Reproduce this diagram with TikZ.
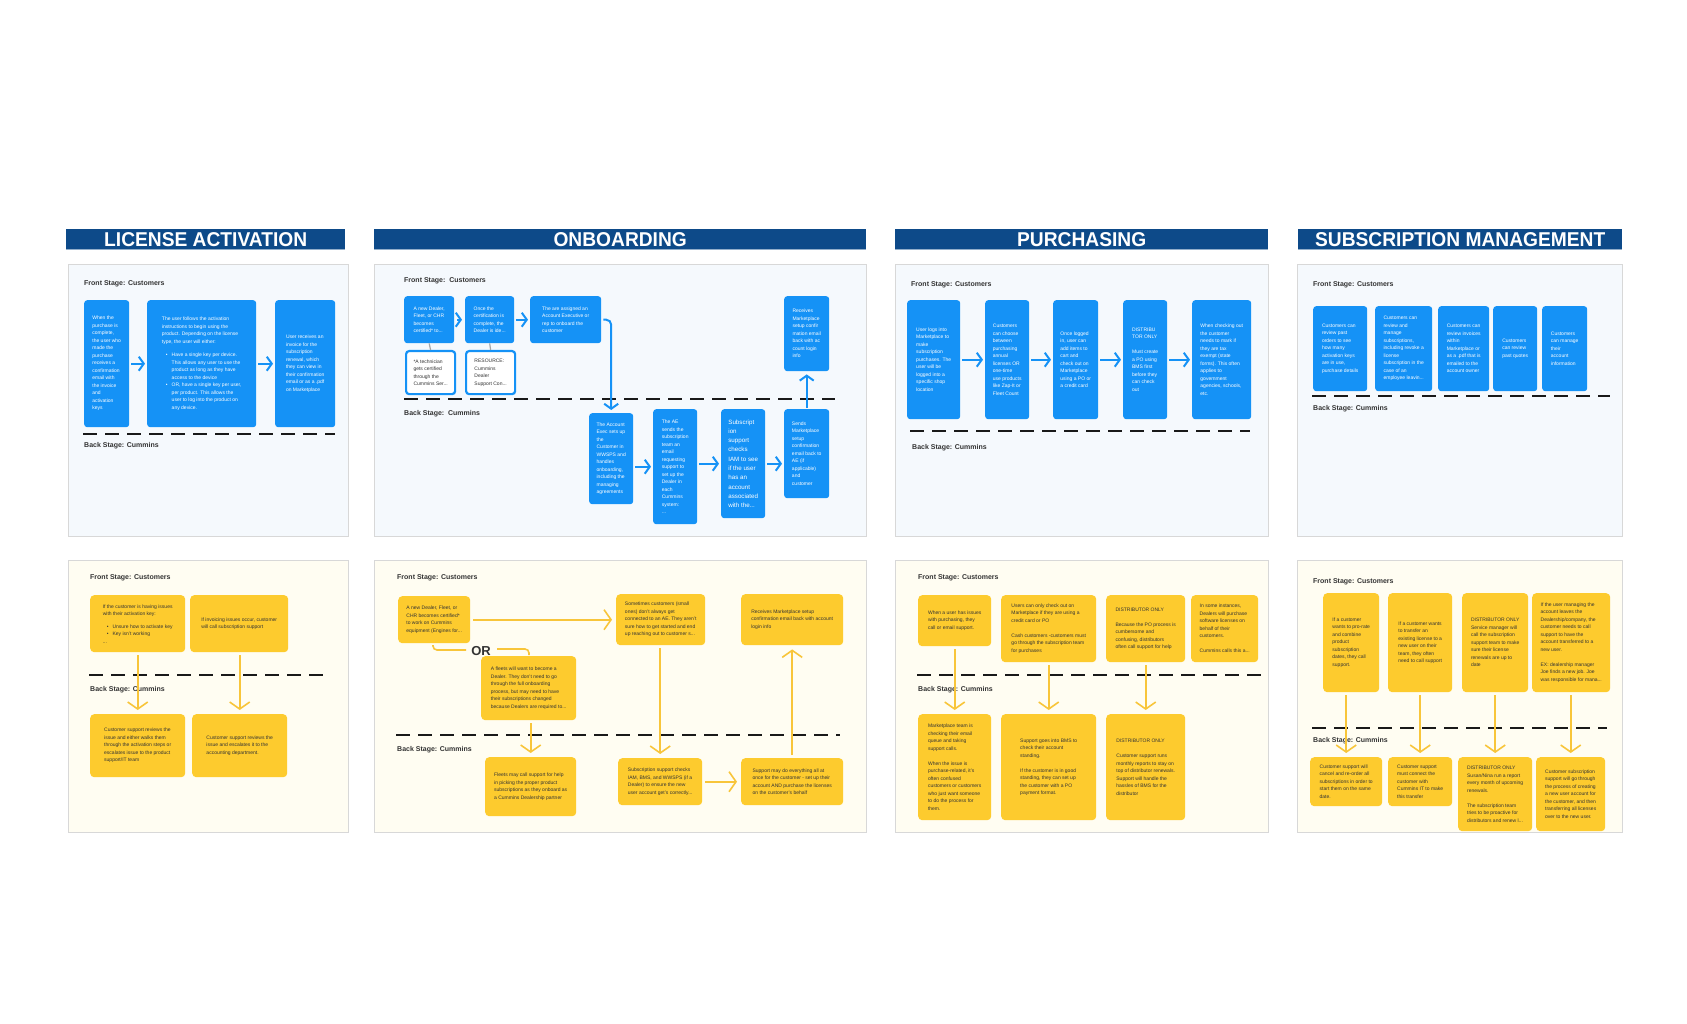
\documentclass[tikz,border=0pt]{standalone}
\usepackage{fontspec}
\setmainfont{Liberation Sans}
\newfontfamily\headfont[FakeStretch=0.96]{Liberation Sans}
\usetikzlibrary{arrows.meta}
\definecolor{hdrblue}{HTML}{0D4A89}
\definecolor{boxblue}{HTML}{1592F6}
\definecolor{boxyellow}{HTML}{FDCB2E}
\definecolor{lineyellow}{HTML}{F8C53A}
\definecolor{topfill}{HTML}{F5F9FD}
\definecolor{botfill}{HTML}{FFFDF2}
\definecolor{panelline}{HTML}{D8D8D8}
\definecolor{textdark}{HTML}{333333}
\newcommand\boxfont{\fontsize{5}{7.5}\selectfont}
\newcommand\bul{\hspace*{4pt}\textbullet\hspace{4pt}}
\newcommand\bulcont{\hspace*{9.8pt}}
\begin{document}
\begin{tikzpicture}[x=1pt, y=-1pt,
  every node/.style={inner sep=0pt, anchor=north west},
  sz/.style 2 args={minimum width=#1pt, minimum height=#2pt},
  header/.style={fill=hdrblue, text=white, font=\headfont\bfseries\fontsize{20}{20}\selectfont},
  stage/.style={anchor=west, font=\bfseries\fontsize{7}{8}\selectfont, text=textdark},
  bluebox/.style={fill=boxblue, text=white, rounded corners=3pt, align=left, font=\boxfont},
  yellowbox/.style={fill=boxyellow, text=textdark, rounded corners=4pt, align=left, font=\boxfont},
  outbox/.style={draw=boxblue, line width=2.2pt, fill=white, text=textdark, rounded corners=3pt, align=left, font=\boxfont},
  barrow/.style={draw=boxblue, line width=2pt, -{Straight Barb[length=5pt,width=14pt]}, shorten <=2pt, shorten >=2pt},
  yarrow/.style={draw=lineyellow, line width=1.6pt, -{Straight Barb[length=7pt,width=20pt]}, shorten <=3pt, shorten >=4pt},
  yline/.style={draw=lineyellow, line width=1.6pt, rounded corners=4pt},
  stagedash/.style={draw=black!90, line width=2.6pt, dash pattern=on 14pt off 8pt},
  toppanel/.style={fill=topfill, draw=panelline, line width=0.8pt},
  botpanel/.style={fill=botfill, draw=panelline, line width=0.8pt}
  ]
  \useasboundingbox (0,0) rectangle (1687,1024);
  \fill[white] (0,0) rectangle (1687,1024);

  % headers
  \node[header, sz={279}{20}] (hLA) at (66,229) {LICENSE ACTIVATION};
  \node[header, sz={492}{20}] (hON) at (374,229) {ONBOARDING};
  \node[header, sz={373}{20}] (hPU) at (895,229) {PURCHASING};
  \node[header, sz={324}{20}] (hSM) at (1298,229) {SUBSCRIPTION MANAGEMENT};
  \foreach \h in {hLA,hON,hPU,hSM}
    \draw[hdrblue!45, line width=1pt] (\h.south west) -- (\h.south east);

  % panels
  \draw[toppanel] (68,264) rectangle (348,536);
  \draw[toppanel] (374,264) rectangle (866,536);
  \draw[toppanel] (895,264) rectangle (1268,536);
  \draw[toppanel] (1297,264) rectangle (1622,536);
  \draw[botpanel] (68,560) rectangle (348,832);
  \draw[botpanel] (374,560) rectangle (866,832);
  \draw[botpanel] (895,560) rectangle (1268,832);
  \draw[botpanel] (1297,560) rectangle (1622,832);

  % license activation, top
  \node[stage] (laTf) at (84,284) {Front Stage: Customers};
  \node[stage] (laTb) at (84,446) {Back Stage: Cummins};
  \draw[stagedash] (83,434) -- (335,434);
  \node[bluebox, sz={45}{127}] (laT1) at (84,300) {When the\\purchase is\\complete,\\the user who\\made the\\purchase\\receives a\\confirmation\\email with\\the invoice\\and\\activation\\keys};
  \node[bluebox, sz={109}{127}] (laT2) at (147,300) {The user follows the activation\\instructions to begin using the\\product. Depending on the license\\type, the user will either:\\[6pt]
    \bul Have a single key per device.\\\bulcont This allows any user to use the\\\bulcont product as long as they have\\\bulcont access to the device\\
    \bul OR, have a single key per user,\\\bulcont per product. This allows the\\\bulcont user to log into the product on\\\bulcont any device.};
  \node[bluebox, sz={60}{127}] (laT3) at (275,300) {User receives an\\invoice for the\\subscription\\renewal, which\\they can view in\\their confirmation\\email or as a .pdf\\on Marketplace};
  \draw[barrow] (laT1) -- (laT2);
  \draw[barrow] (laT2) -- (laT3);

  % onboarding, top
  \node[stage] (onTf) at (404,281) {Front Stage:\ \ Customers};
  \node[stage] (onTb) at (404,414) {Back Stage:\ \ Cummins};
  \draw[stagedash] (404,399) -- (835,399);
  \node[bluebox, sz={50}{47}] (onA1) at (404,296) {A new Dealer,\\Fleet, or CHR\\becomes\\certified* to...};
  \node[bluebox, sz={49}{47}] (onA2) at (465,296) {Once the\\certification is\\complete, the\\Dealer is ide...};
  \node[bluebox, sz={71}{47}] (onA3) at (530,296) {The are assigned an\\Account Executive or\\rep to onboard the\\customer};
  \node[outbox, sz={49}{43}] (onR1) at (405,350) {*A technician\\gets certified\\through the\\Cummins Ser...};
  \node[outbox, sz={49}{43}] (onR2) at (465,350) {RESOURCE:\\Cummins\\Dealer\\Support Con...};
  \node[bluebox, sz={44}{91}] (onC1) at (589,413) {The Account\\Exec sets up\\the\\Customer in\\WWSPS and\\handles\\onboarding,\\including the\\managing\\agreements};
  \node[bluebox, sz={44}{115}] (onC2) at (653,409) {The AE\\sends the\\subscription\\team an\\email\\requesting\\support to\\set up the\\Dealer in\\each\\Cummins\\system:\\...};
  \node[bluebox, sz={44}{109}, font=\fontsize{6.2}{9.3}\selectfont] (onC3) at (721,409) {Subscript\\ion\\support\\checks\\IAM to see\\if the user\\has an\\account\\associated\\with the...};
  \node[bluebox, sz={45}{89}] (onC4) at (784,409) {Sends\\Marketplace\\setup\\confirmation\\email back to\\AE (if\\applicable)\\and\\customer};
  \node[bluebox, sz={45}{75}] (onD) at (784,296) {Receives\\Marketplace\\setup confir\\mation email\\back with ac\\count login\\info};
  \draw[gray!70, line width=1.2pt] (onA1.south) -- (onR1.north);
  \draw[gray!70, line width=1.2pt] (onA2.south) -- (onR2.north);
  \draw[barrow, shorten <=3pt, shorten >=3pt] (onA1) -- (onA2);
  \draw[barrow] (onA2) -- (onA3);
  \draw[barrow, rounded corners=5pt, shorten >=3pt] (onA3.east) -| (onC1.north);
  \draw[barrow] (onC1.east |- onC2.west) -- (onC2.west);
  \draw[barrow] (onC2.east |- onC3.west) -- (onC3.west);
  \draw[barrow] (onC3.east) -- (onC3.east -| onC4.west);
  \draw[barrow, shorten <=1pt, shorten >=3pt] (onC4.north) -- (onD.south);

  % purchasing, top
  \node[stage] (puTf) at (911,285) {Front Stage: Customers};
  \node[stage] (puTb) at (912,448) {Back Stage: Cummins};
  \draw[stagedash] (910,431) -- (1250,431);
  \node[bluebox, sz={53}{119}] (puT1) at (907,300) {User logs into\\Marketplace to\\make\\subscription\\purchases. The\\user will be\\logged into a\\specific shop\\location};
  \node[bluebox, sz={44}{119}] (puT2) at (985,300) {Customers\\can choose\\between\\purchasing\\annual\\licenses OR\\one-time\\use products\\like Zap-It or\\Fleet Count};
  \node[bluebox, sz={45}{119}] (puT3) at (1053,300) {Once logged\\in, user can\\add items to\\cart and\\check out on\\Marketplace\\using a PO or\\a credit card};
  \node[bluebox, sz={44}{119}] (puT4) at (1123,300) {DISTRIBU\\TOR ONLY\\[7.5pt]Must create\\a PO using\\BMS first\\before they\\can check\\out};
  \node[bluebox, sz={59}{119}] (puT5) at (1192,300) {When checking out\\the customer\\needs to mark if\\they are tax\\exempt (state\\forms). This often\\applies to\\government\\agencies, schools,\\etc.};
  \draw[barrow] (puT1) -- (puT2);
  \draw[barrow] (puT2) -- (puT3);
  \draw[barrow] (puT3) -- (puT4);
  \draw[barrow] (puT4) -- (puT5);

  % subscription management, top
  \node[stage] (smTf) at (1313,285) {Front Stage: Customers};
  \node[stage] (smTb) at (1313,409) {Back Stage: Cummins};
  \draw[stagedash] (1312,396) -- (1610,396);
  \node[bluebox, sz={54}{85}] (smT1) at (1313,306) {Customers can\\review past\\orders to see\\how many\\activation keys\\are in use,\\purchase details};
  \node[bluebox, sz={57}{85}] (smT2) at (1375,306) {Customers can\\review and\\manage\\subscriptions,\\including revoke a\\license\\subscription in the\\case of an\\employee leavin...};
  \node[bluebox, sz={51}{85}] (smT3) at (1438,306) {Customers can\\review invoices\\within\\Marketplace or\\as a .pdf that is\\emailed to the\\account owner};
  \node[bluebox, sz={44}{85}] (smT4) at (1493,306) {Customers\\can review\\past quotes};
  \node[bluebox, sz={45}{85}] (smT5) at (1542,306) {Customers\\can manage\\their\\account\\information};

  % license activation, bottom
  \node[stage] (laBf) at (90,578) {Front Stage: Customers};
  \node[stage] (laBb) at (90,690) {Back Stage: Cummins};
  \draw[stagedash] (89,675) -- (325,675);
  \node[yellowbox, sz={95}{57}] (laY1) at (90,595) {If the customer is having issues\\with their activation key:\\[5pt]\bul Unsure how to activate key\\\bul Key isn't working\\...};
  \node[yellowbox, sz={98}{57}] (laY2) at (190,595) {If invoicing issues occur, customer\\will call subscription support};
  \node[yellowbox, sz={95}{63}] (laZ1) at (90,714) {Customer support reviews the\\issue and either walks them\\through the activation steps or\\escalates issue to the product\\support/IT team};
  \node[yellowbox, sz={95}{63}] (laZ2) at (192,714) {Customer support reviews the\\issue and escalates it to the\\accounting department.};
  \draw[yarrow] (laY1.south -| laZ1.north) -- (laZ1.north);
  \draw[yarrow] (laY2.south -| laZ2.north) -- (laZ2.north);

  % onboarding, bottom
  \node[stage] (onBf) at (397,578) {Front Stage: Customers};
  \node[stage] (onBb) at (397,750) {Back Stage: Cummins};
  \draw[stagedash] (396,735) -- (840,735);
  \node[yellowbox, sz={72}{47}] (onY1) at (398,596) {A new Dealer, Fleet, or\\CHR becomes certified*\\to work on Cummins\\equipment (Engines for...};
  \node[yellowbox, sz={95}{64}] (onY3) at (481,656) {A fleets will want to become a\\Dealer. They don't need to go\\through the full onboarding\\process, but may need to have\\their subscriptions changed\\because Dealers are required to...};
  \node[yellowbox, sz={91}{59}] (onZ1) at (485,757) {Fleets may call support for help\\in picking the proper product\\subscriptions as they onboard as\\a Cummins Dealership partner};
  \node[yellowbox, sz={89}{51}] (onY2) at (616,594) {Sometimes customers (small\\ones) don't always get\\connected to an AE. They aren't\\sure how to get started and end\\up reaching out to customer s...};
  \node[yellowbox, sz={102}{51}] (onY4) at (741,594) {Receives Marketplace setup\\confirmation email back with account\\login info};
  \node[yellowbox, sz={84}{47}] (onZ2) at (618,758) {Subscription support checks\\IAM, BMS, and WWSPS (if a\\Dealer) to ensure the new\\user account get's correctly...};
  \node[yellowbox, sz={102}{47}] (onZ3) at (741,758) {Support may do everything all at\\once for the customer - set up their\\account AND purchase the licenses\\on the customer's behalf};
  \node[anchor=center, font=\bfseries\fontsize{13}{13}\selectfont, text=textdark] (onOR) at (481,651) {OR};
  \draw[yline] (433,645) |- (466,650);
  \draw[yline] (497,649) -| (529,655);
  \draw[yarrow] (onY1.east) -- (onY1.east -| onY2.west);
  \draw[yarrow] (onY3.south -| onZ1.north) -- (onZ1.north);
  \draw[yarrow] (onY2.south -| onZ2.north) -- (onZ2.north);
  \draw[yarrow] (onZ2.east) -- (onZ2.east -| onZ3.west);
  \draw[yarrow] (onZ3.north) -- (onZ3.north |- onY4.south);

  % purchasing, bottom
  \node[stage] (puBf) at (918,578) {Front Stage: Customers};
  \node[stage] (puBb) at (918,690) {Back Stage: Cummins};
  \draw[stagedash] (917,675) -- (1262,675);
  \node[yellowbox, sz={73}{51}] (puY1) at (918,595) {When a user has issues\\with purchasing, they\\call or email support.};
  \node[yellowbox, sz={95}{67}] (puY2) at (1001,595) {Users can only check out on\\Marketplace if they are using a\\credit card or PO\\[7.5pt]Cash customers -customers must\\go through the subscription team\\for purchases};
  \node[yellowbox, sz={79}{67}] (puY3) at (1106,595) {DISTRIBUTOR ONLY\\[7.5pt]Because the PO process is\\cumbersome and\\confusing, distributors\\often call support for help};
  \node[yellowbox, sz={67}{67}] (puY4) at (1191,595) {In some instances,\\Dealers will purchase\\software licenses on\\behalf of their\\customers.\\[7.5pt]Cummins calls this a...};
  \node[yellowbox, sz={73}{106}] (puZ1) at (918,714) {Marketplace team is\\checking their email\\queue and taking\\support calls.\\[7.5pt]When the issue is\\purchase-related, it's\\often confused\\customers or customers\\who just want someone\\to do the process for\\them.};
  \node[yellowbox, sz={95}{106}] (puZ2) at (1001,714) {Support goes into BMS to\\check their account\\standing.\\[7.5pt]If the customer is in good\\standing, they can set up\\the customer with a PO\\payment format.};
  \node[yellowbox, sz={79}{106}] (puZ3) at (1106,714) {DISTRIBUTOR ONLY\\[7.5pt]Customer support runs\\monthly reports to stay on\\top of distributor renewals.\\Support will handle the\\hassles of BMS for the\\distributor};
  \draw[yarrow] (puY1.south) -- (puZ1.north);
  \draw[yarrow] (puY2.south) -- (puZ2.north);
  \draw[yarrow] (puY3.south) -- (puZ3.north);

  % subscription management, bottom
  \node[stage] (smBf) at (1313,582) {Front Stage: Customers};
  \node[stage] (smBb) at (1313,741) {Back Stage: Cummins};
  \draw[stagedash] (1312,728) -- (1607,728);
  \node[yellowbox, sz={56}{99}] (smY1) at (1323,593) {If a customer\\wants to pro-rate\\and combine\\product\\subscription\\dates, they call\\support.};
  \node[yellowbox, sz={64}{99}] (smY2) at (1388,593) {If a customer wants\\to transfer an\\existing license to a\\new user on their\\team, they often\\need to call support};
  \node[yellowbox, sz={66}{99}] (smY3) at (1462,593) {DISTRIBUTOR ONLY\\Service manager will\\call the subscription\\support team to make\\sure their license\\renewals are up to\\date};
  \node[yellowbox, sz={78}{99}] (smY4) at (1532,593) {If the user managing the\\account leaves the\\Dealership/company, the\\customer needs to call\\support to have the\\account transferred to a\\new user.\\[7.5pt]EX: dealership manager\\Joe finds a new job. Joe\\was responsible for mana...};
  \node[yellowbox, sz={72}{49}] (smZ1) at (1310,757) {Customer support will\\cancel and re-order all\\subscriptions in order to\\start them on the same\\date.};
  \node[yellowbox, sz={64}{49}] (smZ2) at (1388,757) {Customer support\\must connect the\\customer with\\Cummins IT to make\\this transfer};
  \node[yellowbox, sz={74}{74}] (smZ3) at (1458,757) {DISTRIBUTOR ONLY\\Susan/Nina run a report\\every month of upcoming\\renewals.\\[7.5pt]The subscription team\\tries to be proactive for\\distributors and renew l...};
  \node[yellowbox, sz={69}{74}] (smZ4) at (1536,757) {Customer subscription\\support will go through\\the process of creating\\a new user account for\\the customer, and then\\transferring all licenses\\over to the new user.};
  \draw[yarrow] (smY1.south -| smZ1.north) -- (smZ1.north);
  \draw[yarrow] (smY2.south -| smZ2.north) -- (smZ2.north);
  \draw[yarrow] (smY3.south -| smZ3.north) -- (smZ3.north);
  \draw[yarrow] (smY4.south -| smZ4.north) -- (smZ4.north);
\end{tikzpicture}
\end{document}
